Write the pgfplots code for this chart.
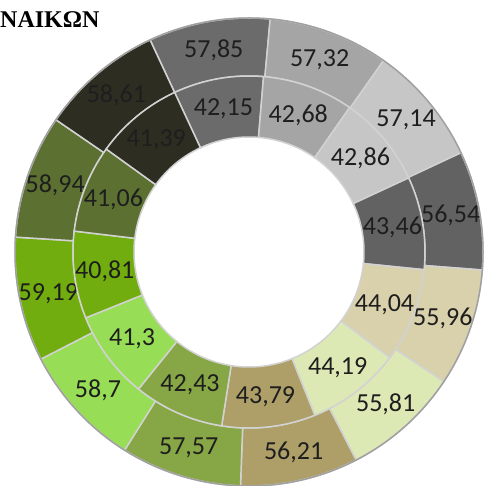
\documentclass[border=0pt]{standalone}
\usepackage{pgfplots}
\pgfplotsset{compat=1.18}
\usepackage{pgfplotstable}
\usepackage{fontspec}
\setmainfont{Carlito}
\newfontfamily\titlefont{Liberation Serif}

\definecolor{cA}{HTML}{6B6B6B}
\definecolor{cB}{HTML}{A5A5A5}
\definecolor{cC}{HTML}{C6C6C6}
\definecolor{cD}{HTML}{626262}
\definecolor{cE}{HTML}{D9D1AB}
\definecolor{cF}{HTML}{DCE9B5}
\definecolor{cG}{HTML}{AE9F68}
\definecolor{cH}{HTML}{87A645}
\definecolor{cI}{HTML}{97DD55}
\definecolor{cJ}{HTML}{71AD0E}
\definecolor{cK}{HTML}{5C7131}
\definecolor{cL}{HTML}{2D2D22}
\definecolor{segline}{HTML}{D2D2D2}
\definecolor{rimline}{HTML}{A0A0A0}
\definecolor{lbl}{HTML}{1E1E1E}

% outer ring / inner ring, one row per slice
\pgfplotstableread{
outer inner col
57.85 42.15 cA
57.32 42.68 cB
57.14 42.86 cC
56.54 43.46 cD
55.96 44.04 cE
55.81 44.19 cF
56.21 43.79 cG
57.57 42.43 cH
58.70 41.30 cI
59.19 40.81 cJ
58.94 41.06 cK
58.61 41.39 cL
}\datatable

\def\cx{249}\def\cy{234}
\def\Ro{234}\def\Rm{176}\def\Ri{115}
\def\startang{115}

\newcommand\drawring[4]{% column, inner radius, outer radius, total
  \xdef\acur{\startang}%
  \foreach \k in {0,...,\lastrow}{%
    \pgfplotstablegetelem{\k}{#1}\of\datatable \let\val\pgfplotsretval
    \pgfplotstablegetelem{\k}{col}\of\datatable \let\segcol\pgfplotsretval
    \pgfmathsetmacro\anext{\acur-\val/#4*360}%
    \pgfmathsetmacro\amid{(\acur+\anext)/2}%
    \pgfmathsetmacro\xa{\cx+#3*cos(\acur)}\pgfmathsetmacro\ya{\cy+#3*sin(\acur)}%
    \pgfmathsetmacro\xb{\cx+#2*cos(\anext)}\pgfmathsetmacro\yb{\cy+#2*sin(\anext)}%
    \pgfmathsetmacro\xm{\cx+(#2+#3)/2*cos(\amid)}\pgfmathsetmacro\ym{\cy+(#2+#3)/2*sin(\amid)}%
    \fill[fill=\segcol, draw=segline, line width=1.5pt]
      (axis cs:\xa,\ya) arc[start angle=\acur, end angle=\anext, radius=#3 pt]
      -- (axis cs:\xb,\yb) arc[start angle=\anext, end angle=\acur, radius=#2 pt] -- cycle;
    \node[text=lbl, font=\fontsize{26}{30}\selectfont] at (axis cs:\xm,\ym)
      {\pgfmathprintnumber[use comma, fixed, precision=2]{\val}};
    \xdef\acur{\anext}%
  }}

\begin{document}
\begin{tikzpicture}
\begin{axis}[
  x=1pt, y=1pt,
  xmin=0, xmax=487, ymin=0, ymax=486,
  hide axis, clip=false,
  /pgf/number format/assume math mode=true,
]
\pgfplotsextra{
  \pgfplotstablegetrowsof{\datatable}
  \pgfmathtruncatemacro\lastrow{\pgfplotsretval-1}
  \gdef\sumo{0}\gdef\sumi{0}
  \foreach \k in {0,...,\lastrow}{
    \pgfplotstablegetelem{\k}{outer}\of\datatable
    \pgfmathsetmacro\t{\sumo+\pgfplotsretval}\xdef\sumo{\t}
    \pgfplotstablegetelem{\k}{inner}\of\datatable
    \pgfmathsetmacro\t{\sumi+\pgfplotsretval}\xdef\sumi{\t}
  }
  \drawring{outer}{\Rm}{\Ro}{\sumo}
  \drawring{inner}{\Ri}{\Rm}{\sumi}
  \draw[rimline, line width=1.5pt] (axis cs:\cx,\cy) circle[radius=\Ro pt];
  \node[anchor=base west, inner sep=0pt, font=\titlefont\bfseries\fontsize{24}{28}\selectfont]
    at (axis cs:0,458) {ΝΑΙΚΩΝ};
}
\end{axis}
\pgfresetboundingbox
\path[use as bounding box] (0,0) rectangle (487pt,486pt);
\end{tikzpicture}
\end{document}
